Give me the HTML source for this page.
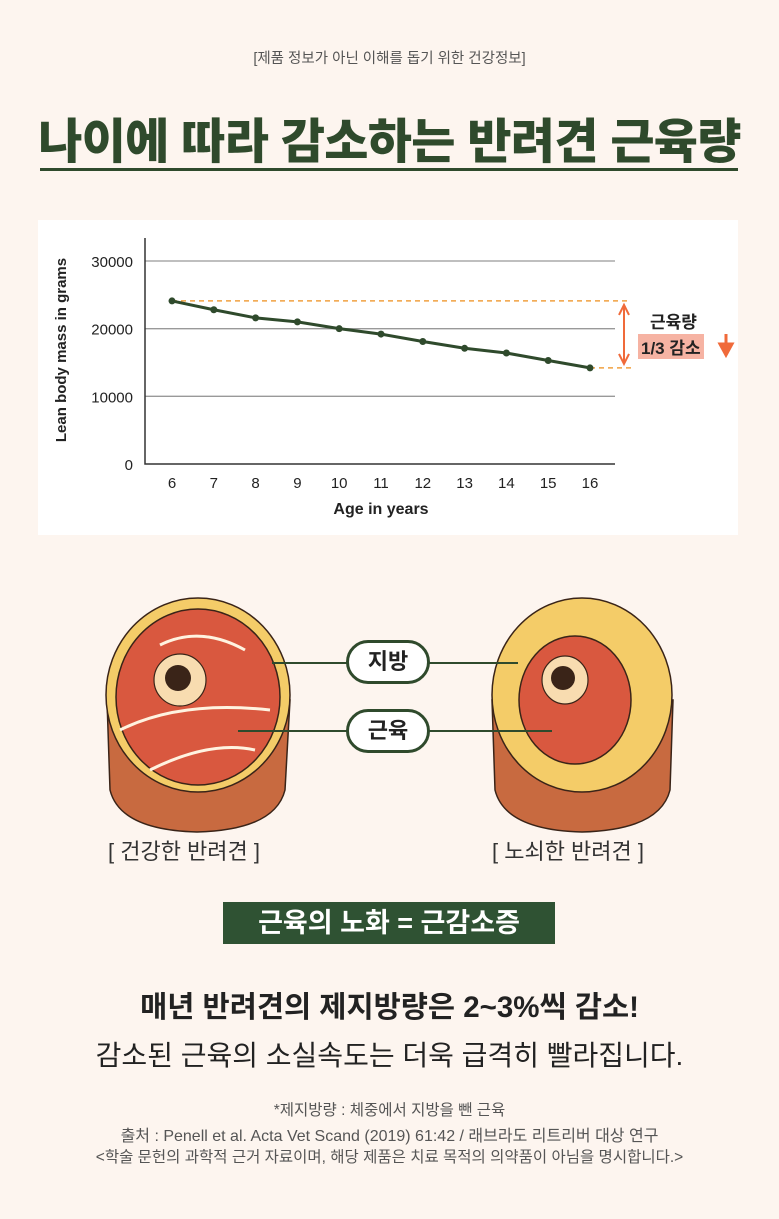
<!DOCTYPE html>
<html><head><meta charset="utf-8">
<style>
body{margin:0;width:779px;height:1219px;background:#fdf5ef;font-family:"Liberation Sans","Noto Sans CJK KR",sans-serif;position:relative;overflow:hidden;color:#222}
.abs{position:absolute}
.c{left:0;width:779px;text-align:center}
</style></head><body>
<div class="abs c" style="top:47px;font-size:14.5px;color:#555">[제품 정보가 아닌 이해를 돕기 위한 건강정보]</div>
<div class="abs c" style="top:102px;font-size:48px;font-weight:900;color:#2f4a2c;letter-spacing:-0.7px">나이에 따라 감소하는 반려견 근육량</div>
<div class="abs" style="left:40px;top:168px;width:698px;height:3px;background:#2f4a2c"></div>

<div class="abs" style="left:38px;top:220px;width:700px;height:315px;background:#fff"></div>
<svg class="abs" style="left:0;top:0" width="779" height="560" id="chart">
<text transform="translate(66,350) rotate(-90)" text-anchor="middle" font-size="15" font-weight="bold" fill="#222">Lean body mass in grams</text>
<text x="381" y="514" text-anchor="middle" font-size="16" font-weight="bold" fill="#222">Age in years</text>
</svg>
<script>
const ages=[6,7,8,9,10,11,12,13,14,15,16];
const mass=[24100,22800,21600,21000,20000,19200,18100,17100,16400,15300,14200];
const yTicks=[0,10000,20000,30000];
const NS="http://www.w3.org/2000/svg";
const svg=document.getElementById('chart');
const x=a=>172+(a-6)*41.8;
const y=v=>464-v*(203/30000);
function mk(t,attrs){const e=document.createElementNS(NS,t);for(const k in attrs)e.setAttribute(k,attrs[k]);svg.appendChild(e);return e;}
yTicks.forEach(v=>{
  if(v>0){const g=mk('line',{x1:145,x2:615,y1:y(v),y2:y(v),stroke:'#999','stroke-width':1.3});
  
  }
  const t=mk('text',{x:133,y:y(v)+6,'text-anchor':'end','font-size':15,fill:'#222'});t.textContent=v;
  
  
});
ages.forEach(a=>{const t=mk('text',{x:x(a),y:488,'text-anchor':'middle','font-size':15,fill:'#222'});t.textContent=a;
  
  });
const ax=mk('path',{d:'M145 238 V464 H615',fill:'none',stroke:'#333','stroke-width':1.5});


const f=mass[0],l=mass[mass.length-1];
const d1=mk('line',{x1:x(6),x2:628,y1:y(f),y2:y(f),stroke:'#f0a040','stroke-width':1.5,'stroke-dasharray':'5,4'});


const d2=mk('line',{x1:x(16),x2:632,y1:y(l),y2:y(l),stroke:'#f0a040','stroke-width':1.5,'stroke-dasharray':'5,4'});


const ar=mk('path',{d:`M624 ${y(f)+6} V${y(l)-6} M619 ${y(f)+14} L624 ${y(f)+4} L629 ${y(f)+14} M619 ${y(l)-14} L624 ${y(l)-4} L629 ${y(l)-14}`,stroke:'#f06a3a','stroke-width':2,fill:'none'});


const ln=mk('polyline',{points:ages.map((a,i)=>x(a)+','+y(mass[i])).join(' '),fill:'none',stroke:'#2f4a2c','stroke-width':3});


ages.forEach((a,i)=>{const c=mk('circle',{cx:x(a),cy:y(mass[i]),r:3.5,fill:'#2f4a2c'});
  
  });
const da=mk('path',{d:'M726 334 V350 M720 344 L726 355 L732 344 Z',stroke:'#f06a3a','stroke-width':3,fill:'#f06a3a'});


</script>
<div class="abs" style="left:650px;top:308px;font-size:17px;font-weight:bold">근육량</div>
<div class="abs" style="left:638px;top:334px;font-size:17px;font-weight:bold;background:#f6b3a3;padding:0 3px">1/3 감소</div>

<svg class="abs" style="left:0;top:590px" width="779" height="250">
<g>
<path d="M107 110 L110 200 Q120 240 197 242 Q275 240 285 200 L290 110 Z" fill="#c86a40" stroke="#3a2418" stroke-width="1.5"/>
<ellipse cx="198" cy="105" rx="92" ry="97" fill="#f4cc68" stroke="#3a2418" stroke-width="1.5"/>
<ellipse cx="198" cy="107" rx="82" ry="88" fill="#d9583f" stroke="#3a2418" stroke-width="1.5"/>
<path d="M160 55 Q200 35 245 60" stroke="#fff3e0" stroke-width="3" fill="none"/>
<path d="M120 140 Q180 110 270 120 M150 180 Q210 150 255 160" stroke="#fff3e0" stroke-width="3" fill="none"/>
<ellipse cx="180" cy="90" rx="26" ry="26" fill="#f8dcb0" stroke="#3a2418" stroke-width="1.2"/>
<circle cx="178" cy="88" r="13" fill="#3a2418"/>
</g>
<g>
<path d="M492 110 L495 200 Q505 240 582 242 Q660 240 670 200 L673 110 Z" fill="#c86a40" stroke="#3a2418" stroke-width="1.5"/>
<ellipse cx="582" cy="105" rx="90" ry="97" fill="#f4cc68" stroke="#3a2418" stroke-width="1.5"/>
<ellipse cx="575" cy="110" rx="56" ry="64" fill="#d9583f" stroke="#3a2418" stroke-width="1.5"/>
<ellipse cx="565" cy="90" rx="23" ry="24" fill="#f8dcb0" stroke="#3a2418" stroke-width="1.2"/>
<circle cx="563" cy="88" r="12" fill="#3a2418"/>
</g>
<line x1="272" y1="73" x2="518" y2="73" stroke="#2f4a2c" stroke-width="2"/>
<line x1="238" y1="141" x2="552" y2="141" stroke="#2f4a2c" stroke-width="2"/>
</svg>
<div class="abs" style="left:346px;top:640px;width:84px;height:44px;border:3px solid #2f4a2c;border-radius:24px;background:#fff;box-sizing:border-box;text-align:center;line-height:38px;font-size:22px;font-weight:bold">지방</div>
<div class="abs" style="left:346px;top:709px;width:84px;height:44px;border:3px solid #2f4a2c;border-radius:24px;background:#fff;box-sizing:border-box;text-align:center;line-height:38px;font-size:22px;font-weight:bold">근육</div>
<div class="abs" style="left:108px;top:834px;font-size:22px;color:#333">[ 건강한 반려견 ]</div>
<div class="abs" style="left:492px;top:834px;font-size:22px;color:#333">[ 노쇠한 반려견 ]</div>

<div class="abs" style="left:223px;top:902px;width:332px;height:42px;background:#2f5233;color:#fff;text-align:center;line-height:42px;font-size:27px;font-weight:bold">근육의 노화 = 근감소증</div>
<div class="abs c" style="top:984px;font-size:29.5px;font-weight:bold">매년 반려견의 제지방량은 2~3%씩 감소!</div>
<div class="abs c" style="top:1034px;font-size:28px">감소된 근육의 소실속도는 더욱 급격히 빨라집니다.</div>
<div class="abs c" style="top:1098px;font-size:15.5px;color:#555">*제지방량 : 체중에서 지방을 뺀 근육</div>
<div class="abs c" style="top:1122px;font-size:16px;color:#555">출처 : Penell et al. Acta Vet Scand (2019) 61:42 / 래브라도 리트리버 대상 연구</div>
<div class="abs c" style="top:1145px;font-size:15.5px;color:#555">&lt;학술 문헌의 과학적 근거 자료이며, 해당 제품은 치료 목적의 의약품이 아님을 명시합니다.&gt;</div>
</body></html>
